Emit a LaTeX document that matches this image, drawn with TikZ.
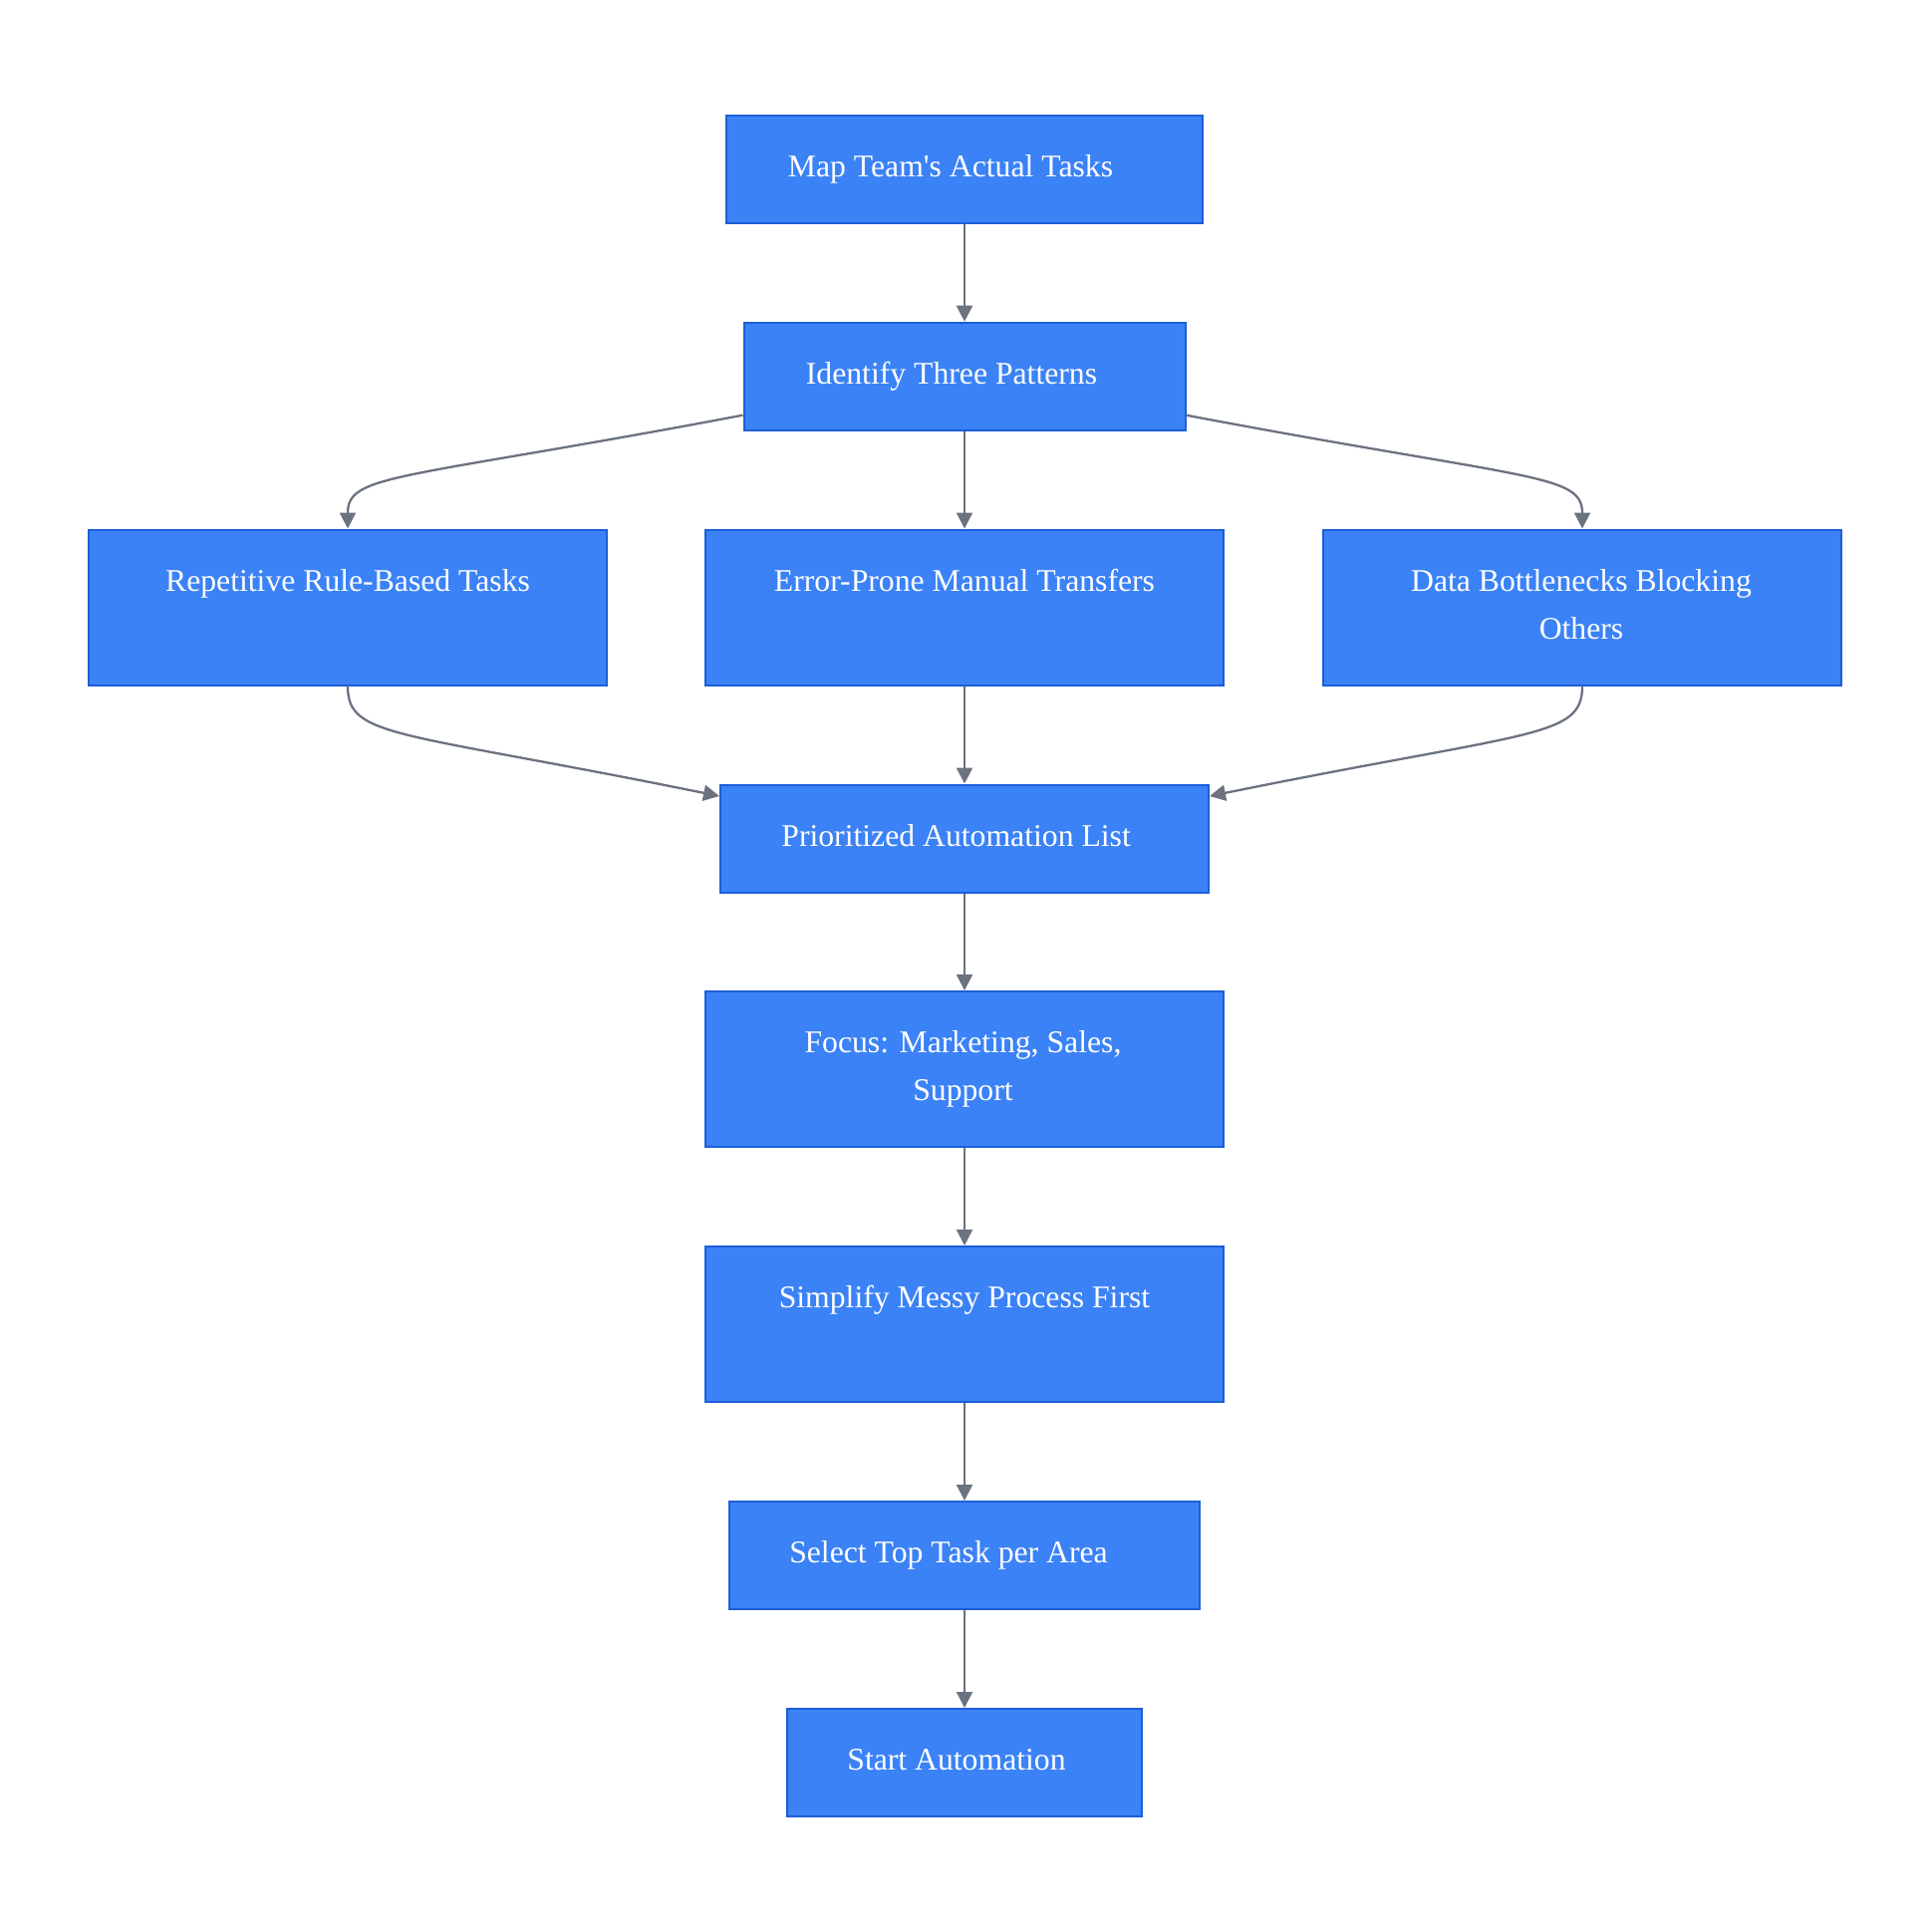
\documentclass[tikz,border=0pt]{standalone}
\usepackage{fontspec}
\setmainfont{Liberation Serif}[Ligatures=TeXOff]
\usetikzlibrary{arrows.meta,calc}
\definecolor{boxfill}{HTML}{3B82F6}
\definecolor{boxline}{HTML}{1D5ED8}
\definecolor{edgegray}{HTML}{6B7280}
\begin{document}
\begin{tikzpicture}[x=1pt,y=-1pt,
  box/.style={draw=boxline, fill=boxfill, line width=2pt, inner sep=0pt, anchor=north},
  shortbox/.style={box, minimum height=108pt},
  tallbox/.style={box, minimum height=156pt},
  lbl/.style={text=white, font=\fontsize{31.7}{48}\selectfont, align=center, anchor=base, inner sep=0pt},
  flow/.style={draw=edgegray, line width=2.3pt, -{Triangle[width=16pt,length=16pt]}}]
\useasboundingbox (0,0) rectangle (1939,1939);

\node[shortbox, minimum width=478pt] (b1) at (968,115) {};
\node[shortbox, minimum width=443pt] (b2) at (968,322.7) {};
\node[tallbox, minimum width=520pt] (b3) at (349,530.5) {};
\node[tallbox, minimum width=520pt] (b4) at (968,530.5) {};
\node[tallbox, minimum width=520pt] (b5) at (1588,530.5) {};
\node[shortbox, minimum width=490pt] (b6) at (968,786.5) {};
\node[tallbox, minimum width=520pt] (b7) at (968,994) {};
\node[tallbox, minimum width=520pt] (b8) at (968,1250) {};
\node[shortbox, minimum width=472pt] (b9) at (968,1506) {};
\node[shortbox, minimum width=356pt] (b10) at (968,1714) {};

\node[lbl] (t1) at (954,177.5) {Map Team's Actual Tasks};
\node[lbl] (t2) at (955,385.2) {Identify Three Patterns};
\node[lbl] (t3) at (349,593) {Repetitive Rule-Based Tasks};
\node[lbl] (t4) at (968,593) {Error-Prone Manual Transfers};
\node[lbl] (t5) at (1587,641) {Data Bottlenecks Blocking\\Others};
\node[lbl] (t6) at (959.6,849) {Prioritized Automation List};
\node[lbl] (t7) at (966.5,1104.5) {Focus: Marketing, Sales,\\Support};
\node[lbl] (t8) at (968,1312.5) {Simplify Messy Process First};
\node[lbl] (t9) at (952,1568.5) {Select Top Task per Area};
\node[lbl] (t10) at (960,1776.5) {Start Automation};

\draw[flow] (b1.south) -- (b2.north);
\draw[flow] (b2.south) -- (b4.north);
\draw[flow] ($(b2.south west)+(0,-16)$) .. controls (400,482) and (349,475) .. (b3.north);
\draw[flow] ($(b2.south east)+(0,-16)$) .. controls (1536,482) and (1588,475) .. (b5.north);
\draw[flow] (b4.south) -- (b6.north);
\draw[flow] (b3.south) .. controls (349,741) and (397,733) .. ($(b6.north west)+(0,12.5)$);
\draw[flow] (b5.south) .. controls (1588,741) and (1539,733) .. ($(b6.north east)+(0,12.5)$);
\draw[flow] (b6.south) -- (b7.north);
\draw[flow] (b7.south) -- (b8.north);
\draw[flow] (b8.south) -- (b9.north);
\draw[flow] (b9.south) -- (b10.north);
\end{tikzpicture}
\end{document}
